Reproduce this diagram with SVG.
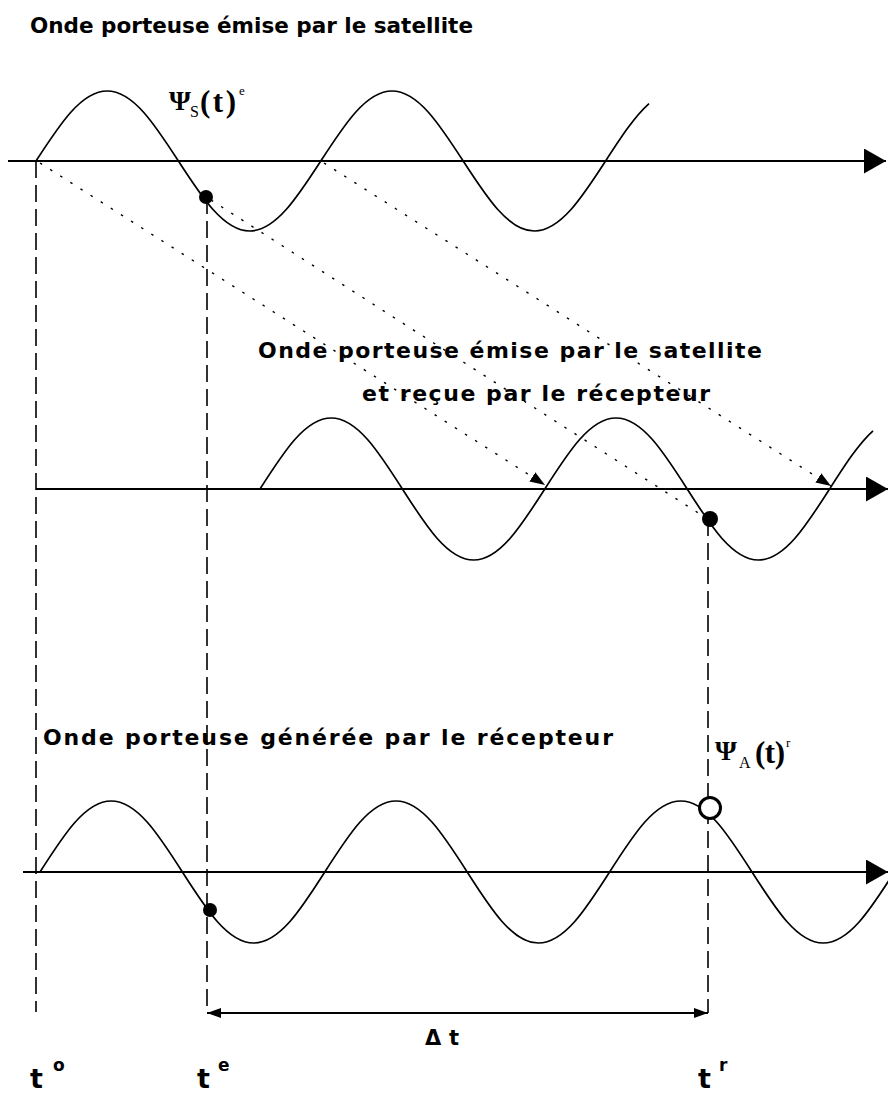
<svg xmlns="http://www.w3.org/2000/svg" width="888" height="1098" viewBox="0 0 888 1098">
<style>
.wave{fill:none;stroke:#000;stroke-width:1.7;}
.axis{fill:none;stroke:#000;stroke-width:2;}
.dash{fill:none;stroke:#000;stroke-width:1.6;stroke-dasharray:17 7;}
.dot{fill:none;stroke:#000;stroke-width:1.4;stroke-dasharray:2.5 9.5;}
.lbl{font-family:"DejaVu Sans",Verdana,sans-serif;font-weight:bold;font-size:22px;fill:#000;}
.psi{font-family:"Liberation Serif","Times New Roman",serif;fill:#000;}
.tl{font-family:"DejaVu Sans",sans-serif;font-weight:bold;fill:#000;}
</style>
<defs>
<marker id="axisHead" markerUnits="userSpaceOnUse" markerWidth="24" markerHeight="26" refX="22" refY="12.5" orient="auto"><path d="M0,0 L22,12.5 L0,25 Z" fill="#000"/></marker>
<marker id="dotHead" markerUnits="userSpaceOnUse" markerWidth="16" markerHeight="12" refX="15" refY="5.5" orient="auto"><path d="M0,0 L15,5.5 L0,11 Z" fill="#000"/></marker>
<marker id="dtHead" markerUnits="userSpaceOnUse" markerWidth="16" markerHeight="12" refX="14" refY="5" orient="auto-start-reverse"><path d="M0,0 L14,5 L0,10 Z" fill="#000"/></marker>
</defs>
<rect x="0" y="0" width="888" height="1098" fill="#fff"/>

<g id="title">
<text class="lbl" x="30" y="33" style="font-size:21px" textLength="443" lengthAdjust="spacingAndGlyphs">Onde porteuse émise par le satellite</text>
</g>

<g id="guides">
<line class="dash" x1="36" y1="161" x2="36" y2="1012"/>
<line class="dash" x1="207" y1="197" x2="207" y2="1013"/>
<line class="dash" x1="708" y1="519" x2="708" y2="1013"/>
</g>

<g id="axes">
<line class="axis" x1="8" y1="161" x2="886" y2="161" marker-end="url(#axisHead)"/>
<line class="axis" x1="36" y1="489" x2="888" y2="489" marker-end="url(#axisHead)"/>
<line class="axis" x1="23" y1="872" x2="888" y2="872" marker-end="url(#axisHead)"/>
</g>

<g id="wave-satellite">
<path class="wave" d="M36,161 c23.8,-36.76 45.35,-70 71.2,-70 c25.85,0 47.4,33.24 71.2,70 c23.8,36.76 45.35,70 71.2,70 c25.85,0 47.4,-33.24 71.2,-70 c23.8,-36.76 45.35,-70 71.2,-70 c25.85,0 47.4,33.24 71.2,70 c23.8,36.76 45.35,70 71.2,70 c25.85,0 47.4,-33.24 71.2,-70 c14.82,-22.88 28.75,-44.39 43.4,-57.38"/>
<circle cx="206" cy="197" r="7" fill="#000"/>
<text class="psi" x="169" y="110" font-size="28" font-weight="bold">Ψ</text>
<text class="psi" x="190" y="117" font-size="16">S</text>
<text class="psi" x="200" y="112" font-size="31" font-weight="bold" textLength="36" lengthAdjust="spacing">(t)</text>
<text class="psi" x="239" y="95" font-size="13">e</text>
</g>

<g id="wave-recue">
<path class="wave" d="M260,489 c23.8,-37.28 45.35,-71 71.2,-71 c25.85,0 47.4,33.72 71.2,71 c23.8,37.28 45.35,71 71.2,71 c25.85,0 47.4,-33.72 71.2,-71 c23.8,-37.28 45.35,-71 71.2,-71 c25.85,0 47.4,33.72 71.2,71 c23.8,37.28 45.35,71 71.2,71 c25.85,0 47.4,-33.72 71.2,-71 c14.82,-23.2 28.75,-45.03 43.4,-58.2"/>
<circle cx="710" cy="519" r="8" fill="#000"/>
<text class="lbl" x="258" y="358" textLength="504" lengthAdjust="spacing">Onde porteuse émise par le satellite</text>
<text class="lbl" x="362" y="401" textLength="348" lengthAdjust="spacing">et reçue par le récepteur</text>
</g>

<g id="wave-recepteur">
<path class="wave" d="M40,872 c23.8,-37.28 45.35,-71 71.2,-71 c25.85,0 47.4,33.72 71.2,71 c23.8,37.28 45.35,71 71.2,71 c25.85,0 47.4,-33.72 71.2,-71 c23.8,-37.28 45.35,-71 71.2,-71 c25.85,0 47.4,33.72 71.2,71 c23.8,37.28 45.35,71 71.2,71 c25.85,0 47.4,-33.72 71.2,-71 c23.8,-37.28 45.35,-71 71.2,-71 c25.85,0 47.4,33.72 71.2,71 c23.8,37.28 45.35,71 71.2,71 c25.85,0 47.4,-33.72 71.2,-71"/>
<circle cx="210" cy="910" r="7" fill="#000"/>
<circle cx="710" cy="808" r="10.5" fill="#fff" stroke="#000" stroke-width="3"/>
<text class="lbl" x="43" y="745" textLength="570" lengthAdjust="spacing">Onde porteuse générée par le récepteur</text>
<text class="psi" x="715" y="760" font-size="28" font-weight="bold">Ψ</text>
<text class="psi" x="739" y="768" font-size="16">A</text>
<text class="psi" x="755" y="763" font-size="31" font-weight="bold" textLength="30" lengthAdjust="spacing">(t)</text>
<text class="psi" x="786" y="747" font-size="13">r</text>
</g>

<g id="connectors">
<line class="dot" x1="40" y1="163" x2="545" y2="485" marker-end="url(#dotHead)"/>
<line class="dot" x1="211" y1="200" x2="703" y2="516"/>
<line class="dot" x1="324" y1="163" x2="831" y2="486" marker-end="url(#dotHead)"/>
<line class="axis" x1="207" y1="1013" x2="708" y2="1013" marker-start="url(#dtHead)" marker-end="url(#dtHead)"/>
</g>

<g id="time-labels">
<text class="tl" x="425" y="1045" font-size="21" textLength="34" lengthAdjust="spacing">Δt</text>
<text class="tl" x="30" y="1088" font-size="27">t</text>
<text class="tl" x="53" y="1071" font-size="17">o</text>
<text class="tl" x="197" y="1088" font-size="27">t</text>
<text class="tl" x="218" y="1071" font-size="17">e</text>
<text class="tl" x="698" y="1088" font-size="27">t</text>
<text class="tl" x="719" y="1071" font-size="17">r</text>
</g>
</svg>
